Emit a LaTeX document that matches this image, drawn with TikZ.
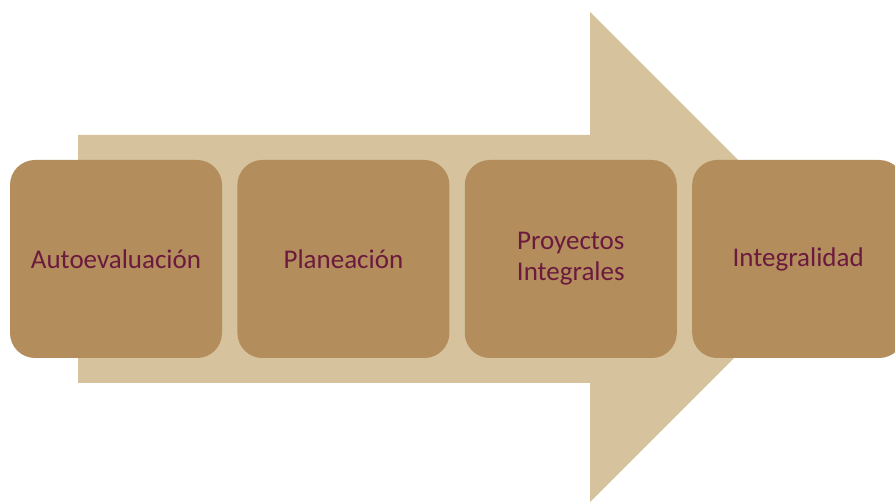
\documentclass[tikz,border=0pt]{standalone}
\usepackage{fontspec}
\setmainfont{Carlito}
\usetikzlibrary{positioning}
\definecolor{arrowtan}{HTML}{D6C29C}
\definecolor{stagebrown}{HTML}{B38D5C}
\definecolor{stagewine}{HTML}{6B1A3E}

\begin{document}
\begin{tikzpicture}[x=1pt,y=-1pt,
    stage/.style={fill=stagebrown, rounded corners=25pt, minimum width=212pt,
      minimum height=198pt, inner sep=0pt, align=center, text=stagewine,
      font=\fontsize{27}{31}\selectfont}]
    \useasboundingbox (0,0) rectangle (895,502);

    % big arrow behind the stages
    \fill[arrowtan] (78,135) -- (590,135) -- (590,12) -- (835,257)
      -- (590,502) -- (590,383) -- (78,383) -- cycle;

    % stages
    \node[stage] (autoeval) at (116,259) {Autoevaluación};
    \node[stage, right=15pt of autoeval] (planeacion) {Planeación};
    \node[stage, right=15pt of planeacion] (proyectos) {Proyectos\\Integrales};
    \node[stage, right=15pt of proyectos] (integral) {Integralidad};
\end{tikzpicture}
\end{document}
